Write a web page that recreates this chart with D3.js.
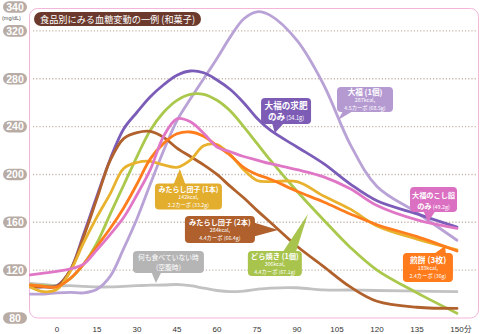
<!DOCTYPE html>
<html><head><meta charset="utf-8">
<script src="https://cdn.jsdelivr.net/npm/d3@7"></script>
<style>html,body{margin:0;padding:0;background:#fff;}svg{display:block;}</style>
</head><body>
<svg id="c" width="480" height="334"></svg>
<script>
// ---- data ----
const times = [-10,-5,0,5,10,15,20,25,30,35,40,45,50,55,60,65,70,75,80,90,100,110,120,135,150];
const fasting    = [109,108,107,107,106.5,106,106,106.5,107,107.5,107.6,108,107,105,103,102,102.5,104,105,105.3,103.5,103.4,103,102.5,102];
const daifuku    = [100,100,101,101.5,101,104,115,138,163,192,220,245,263,280,297,315,330,336,333,312,275,225,190,168,145];
const gyuhi      = [106,106,107,120,150,182,213,238,252,265,275,283,286.5,285,279,271,260,247,237,223,209,192,178,167,156];
const dorayaki   = [107.6,107,107,113,125,142.7,167,191,215,237,252,262,267,267,262,253,240,226,212,186,162,139,120,101,84];
const mitarashi2 = [106,106,106.5,120,148,180,212,230,235,236,231,222,215,208,200,190,180.5,170,160,140,123,106,94,89,88];
const mitarashi1 = [106,102,104,119,143,164.5,184,205,210,211,208,206,212,224,225,216.5,204,195,194,194,182,171,157,146,137];
const senbei     = [107.6,106.5,106,113,125,140,155,172,192,213,226,234,235.5,232,224,216,206,200,196,186,177,167,158,148,136];
const koshian    = [116,117.5,119,121,125,137,150,164,183,204,232,246.5,244,234.5,223,219,215,212,209,204,198,188,174,162,155];

const yTicks = [80,120,160,200,240,280,320,340];
const gridValues = [120,160,200,240,280,320];
const xTicks = [0,15,30,45,60,75,90,105,120,135,150];
const titleText = "食品別にみる血糖変動の一例 (和菓子)";

const series = [
  {name:"fasting", values:fasting, color:"#c2c2c2"},
  {name:"daifuku", values:daifuku, color:"#b9a2d6"},
  {name:"dorayaki", values:dorayaki, color:"#aac94c"},
  {name:"gyuhi", values:gyuhi, color:"#7b5cb8"},
  {name:"mitarashi2", values:mitarashi2, color:"#b1612b"},
  {name:"mitarashi1", values:mitarashi1, color:"#e8b22e"},
  {name:"senbei", values:senbei, color:"#ff7d1c"},
  {name:"koshian", values:koshian, color:"#e077c6"}
];

// annotations: box center (t, v), pointer tip (t, v); text parts [text, size, bold]
const annotations = [
  {lines:[[["大福 (1個)",7.6,1]],[["287kcal,",5.3,0]],[["4.5カーボ (68.5g)",5.3,0]]], color:"#b59ad2", t:115.5, v:262.7, w:56, h:25, tip:[105.4,245.6], side:"bottom", base:[-22,-12]},
  {lines:[[["大福の求肥",8.6,1]],[["のみ",8.6,1],[" (54.1g)",5.6,0]]], color:"#7d5cb6", t:85.9, v:253.1, w:50, h:26, tip:[81.7,234.7], side:"bottom", base:[-14,-2]},
  {lines:[[["みたらし団子 (1本)",7,1]],[["142kcal,",5.3,0]],[["2.2カーボ (33.2g)",5.3,0]]], color:"#e3ad2d", t:49.3, v:181.6, w:67, h:26, tip:[46.1,204.6], side:"top", base:[-15,-3]},
  {lines:[[["みたらし団子 (2本)",7.2,1]],[["284kcal,",5.3,0]],[["4.4カーボ (66.4g)",5.3,0]]], color:"#b0602c", t:61.1, v:154, w:70, h:27, tip:[82.9,153.6], side:"right", base:[-7,7]},
  {lines:[[["どら焼き (1個)",7.3,1]],[["306kcal,",5.3,0]],[["4.4カーボ (67.1g)",5.3,0]]], color:"#a8c44d", t:81.7, v:125.6, w:54, h:25, tip:[94.1,167], side:"top", base:[8,21]},
  {lines:[[["大福のこし餡",7.2,1]],[["のみ",7.2,1],[" (49.2g)",5.4,0]]], color:"#db70c2", t:141.2, v:179.1, w:47, h:25, tip:[139.1,160.3], side:"bottom", base:[-10,2]},
  {lines:[[["煎餅 (3枚)",8,1]],[["189kcal,",5.3,0]],[["2.4カーボ (36g)",5.3,0]]], color:"#ff7b1b", t:139.1, v:122.2, w:50, h:29, tip:[145.5,140.2], side:"top", base:[6,18]},
  {lines:[[["何も食べていない時",6.8,0]],[["(空腹時)",6.8,0]]], color:"#b5b5b5", t:41.8, v:126.8, w:71, h:22, tip:[37.1,109.3], side:"bottom", base:[-17,-7]}
];

// ---- drawing ----
const svg = d3.select("#c");
const FONT = "'Noto Sans CJK JP','Noto Sans',sans-serif";
const x = d3.scaleLinear().domain([-10,150]).range([30.3,457]);
const y = d3.scaleLinear().domain([80,340]).range([318,7]);

// plot frame
svg.append("rect").attr("x",29.5).attr("y",8.5).attr("width",449).attr("height",309.5)
  .attr("rx",8).attr("fill","#fff").attr("stroke","#f3b5da").attr("stroke-width",1);

// grid
svg.append("g").selectAll("line").data(gridValues).join("line")
  .attr("x1",33).attr("x2",477).attr("y1",d=>y(d)).attr("y2",d=>y(d))
  .attr("stroke","#c6b3a8").attr("stroke-width",1.4).attr("stroke-dasharray","1.2,2");

// y labels
const yl = svg.append("g").selectAll("g").data(yTicks).join("g")
  .attr("transform",d=>`translate(15,${y(d)})`);
yl.append("rect").attr("x",-12).attr("y",-5.8).attr("width",24).attr("height",11.6).attr("rx",5.8).attr("fill","#b8aca5");
yl.append("text").attr("text-anchor","middle").attr("dy","0.36em").attr("fill","#fff")
  .attr("font-family","'Liberation Sans',Arial,sans-serif").attr("font-weight","bold").attr("font-size",10.5).text(d=>d);
svg.append("text").attr("x",2).attr("y",20).attr("font-size",5.5).attr("fill","#555")
  .attr("font-family","'Liberation Sans',Arial,sans-serif").text("(mg/dL)");

// x labels
svg.append("g").selectAll("text").data(xTicks).join("text")
  .attr("x",d=>x(d)).attr("y",332).attr("text-anchor","middle")
  .attr("font-family","'Liberation Sans',Arial,sans-serif").attr("font-size",8).attr("fill","#333")
  .text(d=>d);
svg.append("text").attr("x",x(150)+7).attr("y",332).attr("font-family",FONT).attr("font-size",7.5).attr("fill","#333").text("分");

// title
svg.append("rect").attr("x",34).attr("y",12).attr("width",167).attr("height",14).attr("rx",7).attr("fill","#6b3a2c");
svg.append("text").attr("x",40).attr("y",22.8).attr("fill","#fff").attr("font-family",FONT).attr("font-size",9.6)
  .attr("textLength",155).attr("lengthAdjust","spacingAndGlyphs").text(titleText);

// lines
const line = d3.line().x((d,i)=>x(times[i])).y(d=>y(d)).curve(d3.curveCatmullRom.alpha(0.5));
svg.append("g").selectAll("path").data(series).join("path")
  .attr("d",d=>line(d.values)).attr("fill","none").attr("stroke",d=>d.color)
  .attr("stroke-width",2.8).attr("stroke-linejoin","round").attr("stroke-linecap","round");

// annotations
const ag = svg.append("g").selectAll("g").data(annotations).join("g");
ag.each(function(a){
  const g = d3.select(this);
  const cx = x(a.t), cy = y(a.v);
  const l = cx - a.w/2, r = cx + a.w/2, t = cy - a.h/2, b = cy + a.h/2;
  const tx = x(a.tip[0]), ty = y(a.tip[1]);
  let p;
  if (a.side==="bottom") p = [[cx+a.base[0], b-1],[cx+a.base[1], b-1],[tx,ty]];
  if (a.side==="top") p = [[cx+a.base[0], t+1],[cx+a.base[1], t+1],[tx,ty]];
  if (a.side==="right") p = [[r-1, cy+a.base[0]],[r-1, cy+a.base[1]],[tx,ty]];
  g.append("path").attr("d","M"+p.map(q=>q.join(",")).join("L")+"Z").attr("fill",a.color);
  g.append("rect").attr("x",l).attr("y",t).attr("width",a.w).attr("height",a.h).attr("rx",4).attr("fill",a.color);
  const n = a.lines.length;
  let ys;
  const off = (a.h - 25) / 2;
  if (n===3) ys = [t+off+8.2, t+off+15.4, t+off+22.6];
  else if (a.lines[0][0][2]===0) ys = [t+8.8, t+18.6];
  else ys = [t+off+10.6, t+off+21.6];
  a.lines.forEach((ln,i)=>{
    const te = g.append("text").attr("x",cx).attr("y",ys[i]).attr("text-anchor","middle")
      .attr("fill","#fff").attr("font-family",FONT);
    ln.forEach(pt=>{
      te.append("tspan").text(pt[0]).attr("font-size",pt[1]).attr("font-weight",pt[2]?"bold":"normal");
    });
    const len = te.node().getComputedTextLength();
    if (len > a.w-4) te.attr("textLength",a.w-4).attr("lengthAdjust","spacingAndGlyphs");
  });
});
</script>
</body></html>
